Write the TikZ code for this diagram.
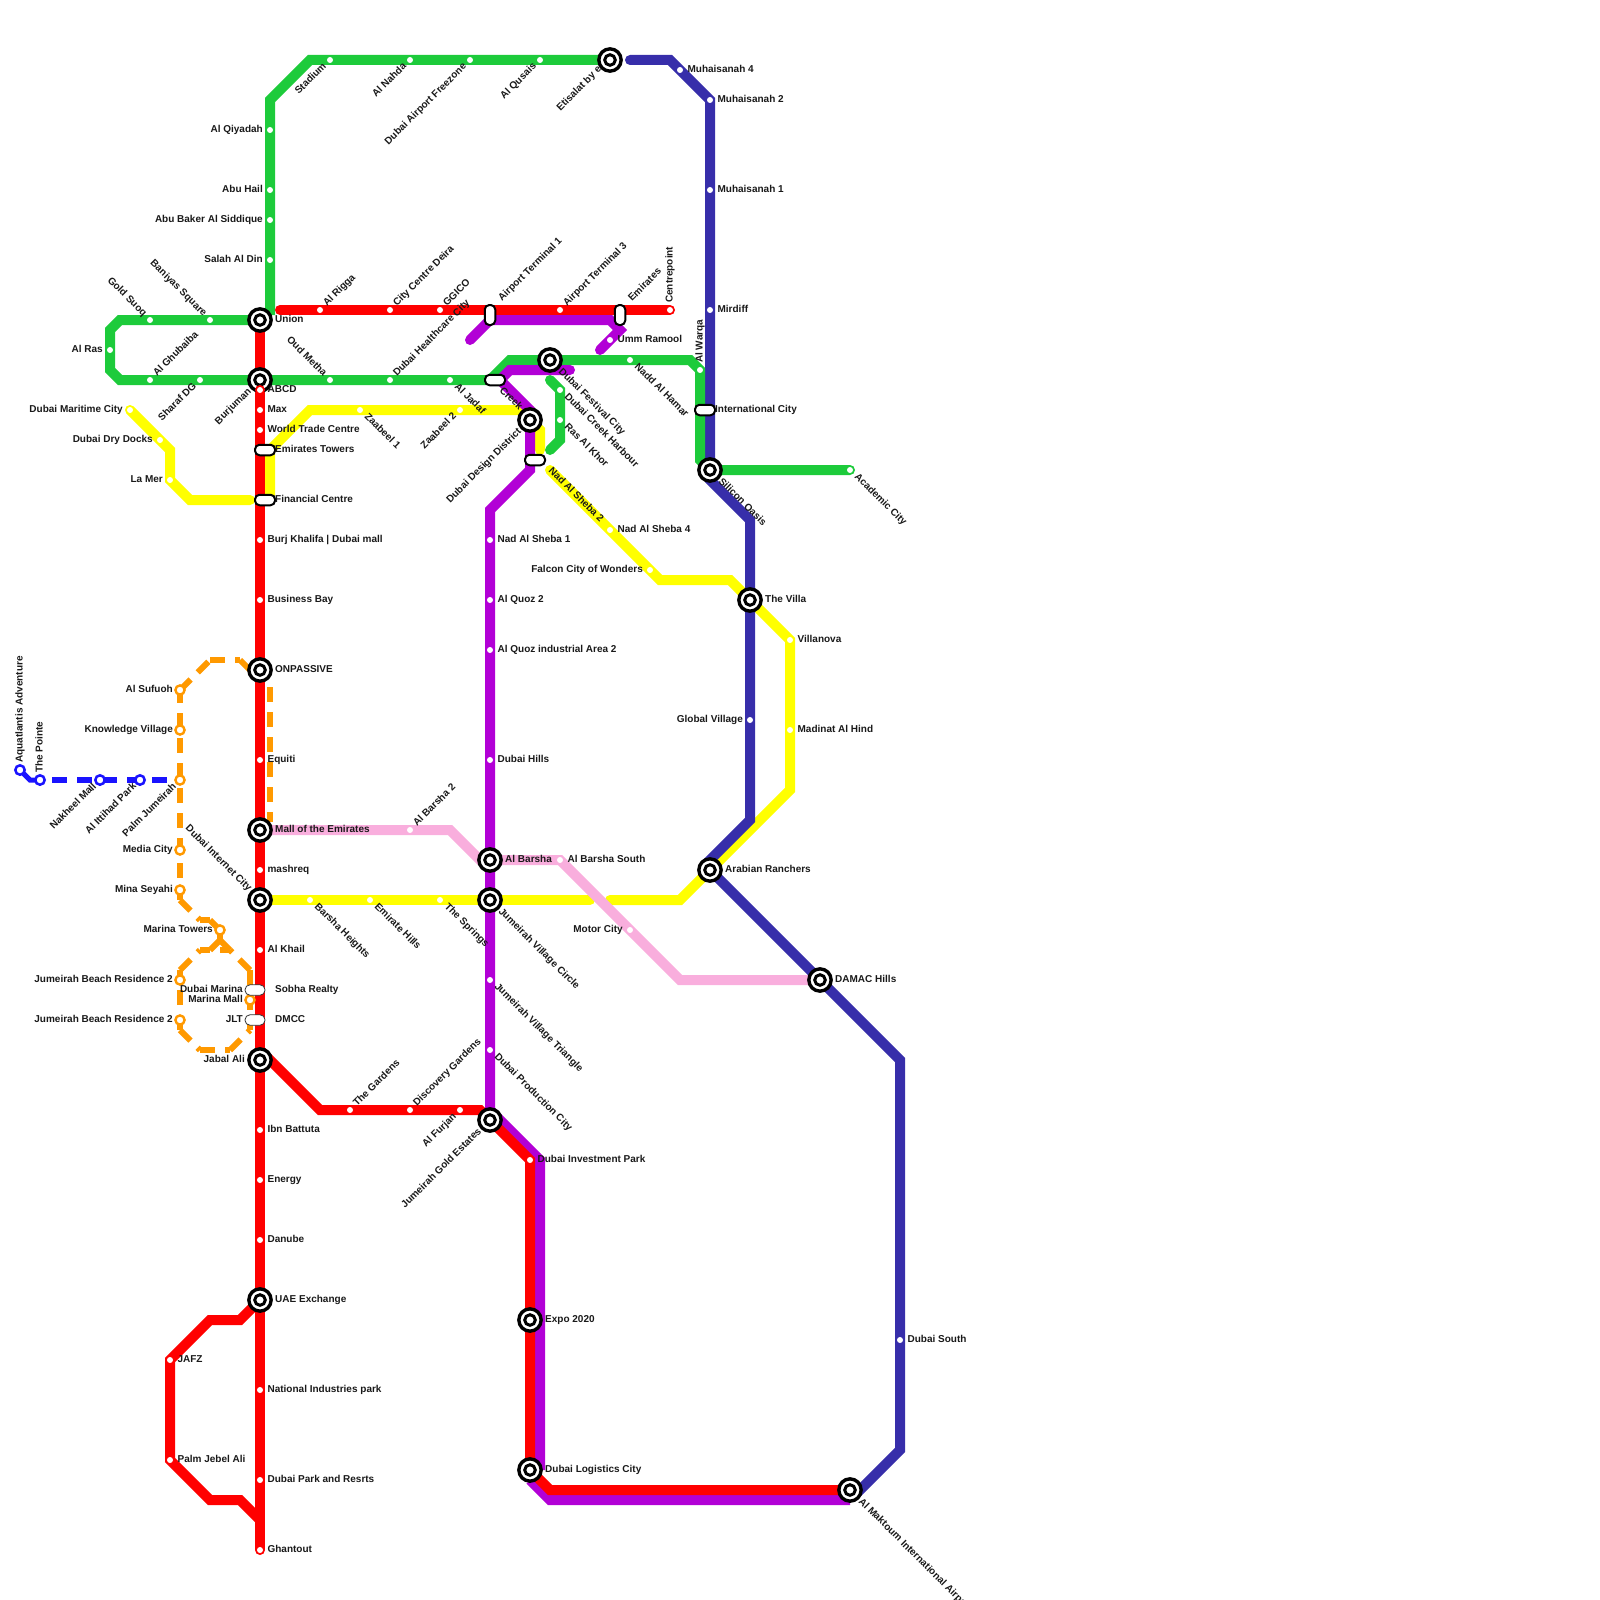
\documentclass[tikz,border=0pt]{standalone}
\usepackage{xcolor}
\usepackage{fontspec}
\setmainfont{Liberation Sans}
\usetikzlibrary{backgrounds}
\definecolor{metrored}{HTML}{FF0000}
\definecolor{metrogreen}{HTML}{1DCB3B}
\definecolor{metronavy}{HTML}{372EAA}
\definecolor{metropurple}{HTML}{B200D6}
\definecolor{metroyellow}{HTML}{FFFF00}
\definecolor{metropink}{HTML}{F9AEDD}
\definecolor{metroorange}{HTML}{FF9900}
\definecolor{metroblue}{HTML}{1A13FF}
\tikzset{
  metroline/.style={line width=10pt, line cap=round, line join=miter},
  dashline/.style={line width=6pt, dash pattern=on 15pt off 10pt},
  stopdot/.style={circle, fill=white, inner sep=0pt, minimum size=6pt},
  stopcap/.style={circle, fill=metrored, inner sep=0pt, minimum size=10pt},
  stoporange/.style={circle, draw=metroorange, fill=white, line width=2.4pt, inner sep=0pt, minimum size=9.2pt},
  stopblue/.style={circle, draw=metroblue, fill=white, line width=2.5pt, inner sep=0pt, minimum size=9.4pt},
  hubring/.style={circle, draw=black, fill=white, line width=3.4pt, inner sep=0pt, minimum size=22.3pt},
  hubcore/.style={circle, draw=black, fill=white, line width=3pt, inner sep=0pt, minimum size=10.6pt},
  pillh/.style={rectangle, rounded corners=4.5pt, draw=black, fill=white, line width=2pt, inner sep=0pt, minimum width=20pt, minimum height=10.5pt},
  pillv/.style={rectangle, rounded corners=4.5pt, draw=black, fill=white, line width=2pt, inner sep=0pt, minimum width=10.5pt, minimum height=20pt},
  pillthin/.style={rectangle, rounded corners=5pt, draw=black!80, fill=white, line width=0.8pt, inner sep=0pt, minimum width=20pt, minimum height=10.5pt},
  lbl/.style={font=\bfseries\fontsize{10}{12}\selectfont, text=black!90, inner sep=0pt, text height=7.2pt, text depth=1.8pt},
  lble/.style={lbl, anchor=west},
  lblw/.style={lbl, anchor=east},
  lblne/.style={lbl, rotate=45, anchor=west},
  lblsw/.style={lbl, rotate=45, anchor=east},
  lblnw/.style={lbl, rotate=-45, anchor=east},
  lblse/.style={lbl, rotate=-45, anchor=west},
  lblup/.style={lbl, rotate=90, anchor=west},
}
\begin{document}
\begin{tikzpicture}[x=1pt, y=-1pt]
    \useasboundingbox (0, 0) rectangle (1600, 1600);
    % stations
    \foreach \nm/\px/\py in {alqiyadah/270/130, abuhail/270/190, abubaker/270/220, salah/270/260, stadium/330/60, alnahda/410/60, freezone/470/60, qusais/540/60, goldsuoq/150/320, baniyas/210/320, alras/110/350, ghubaiba/150/380, sharaf/200/380, oudmetha/330/380, healthcare/390/380, jadaf/450/380, nadd/630/360, warqa/700/370, harbour/560/390, raskhor/560/420, academic/850/470, rigga/320/310, citycentre/390/310, ggico/440/310, terminal3/560/310, centrepoint/670/310, max/260/410, wtc/260/430, burj/260/540, bay/260/600, equiti/260/760, mashreq/260/870, khail/260/950, ibn/260/1130, energy/260/1180, danube/260/1240, national/260/1390, park/260/1480, ghantout/260/1550, jafz/170/1360, jebelali/170/1460, gardens/350/1110, discovery/410/1110, furjan/460/1110, investment/530/1160, muh4/680/70, muh2/710/100, muh1/710/190, mirdiff/710/310, globalvillage/750/720, dubaisouth/900/1340, maritime/130/410, drydocks/160/440, lamer/170/480, zaabeel1/360/410, zaabeel2/460/410, sheba4/610/530, falcon/650/570, villanova/790/640, madinat/790/730, barshaheights/310/900, emiratehills/370/900, springs/440/900, ummramool/610/340, sheba1/490/540, quoz2/490/600, quozia/490/650, dubaihills/490/760, jvt/490/980, production/490/1050, barsha2/410/830, barshasouth/560/860, motor/630/930}
        \node[stopdot] (\nm) at (\px, \py) {};
    \foreach \nm/\px/\py in {union/260/320, burjuman/260/380, etisalat/610/60, festival/550/360, creek/530/420, silicon/710/470, villa/750/600, onpassive/260/670, moe/260/830, internetcity/260/900, albarsha/490/860, jvc/490/900, ranchers/710/870, damac/820/980, jabalali/260/1060, goldestates/490/1120, uae/260/1300, expo/530/1320, logistics/530/1470, maktoum/850/1490} {
        \node[hubring] (\nm) at (\px, \py) {};
        \node[hubcore] (\nm-core) at (\px, \py) {};
    }
    % the red line runs over the lower edge of this hub
    \node[stopcap] (abcdcap) at (260, 390) {};
    \node[stopdot] (abcd) at (260, 390) {};
    \foreach \nm/\px/\py in {alsufuoh/180/690, knowledge/180/730, palmjumeirah/180/780, media/180/850, minaseyahi/180/890, marinatowers/220/930, jbr1/180/980, jbr2/180/1020, marinamall/250/1000}
        \node[stoporange] (\nm) at (\px, \py) {};
    \foreach \nm/\px/\py in {aquatlantis/20/770, pointe/40/780, nakheel/100/780, ittihad/140/780}
        \node[stopblue] (\nm) at (\px, \py) {};
    \foreach \nm/\px/\py in {emiratestowers/265/450, financial/265/500, creekgate/495/380, designgate/535/460, intlcity/705/410}
        \node[pillh] (\nm) at (\px, \py) {};
    \foreach \nm/\px/\py in {terminal1/490/315, emirates/620/315}
        \node[pillv] (\nm) at (\px, \py) {};
    \foreach \nm/\px/\py in {sobha/255/990, dmcc/255/1020}
        \node[pillthin] (\nm) at (\px, \py) {};
    % labels
    \foreach \nm/\txt in {abcd/ABCD, max/Max, wtc/World Trade Centre, burj/Burj Khalifa | Dubai mall, bay/Business Bay, equiti/Equiti, mashreq/mashreq, khail/Al Khail, ibn/Ibn Battuta, energy/Energy, danube/Danube, national/National Industries park, park/Dubai Park and Resrts, ghantout/Ghantout, jafz/JAFZ, jebelali/Palm Jebel Ali, investment/Dubai Investment Park, muh4/Muhaisanah 4, muh2/Muhaisanah 2, muh1/Muhaisanah 1, mirdiff/Mirdiff, dubaisouth/Dubai South, sheba4/Nad Al Sheba 4, villanova/Villanova, madinat/Madinat Al Hind, ummramool/Umm Ramool, sheba1/Nad Al Sheba 1, quoz2/Al Quoz 2, quozia/Al Quoz industrial Area 2, dubaihills/Dubai Hills, barshasouth/Al Barsha South}
        \node[lble] (\nm-t) at ([xshift=7.4pt]\nm.center) {\txt};
    \foreach \nm/\txt in {union/Union, onpassive/ONPASSIVE, moe/Mall of the Emirates, albarsha/Al Barsha, villa/The Villa, ranchers/Arabian Ranchers, damac/DAMAC Hills, uae/UAE Exchange, expo/Expo 2020, logistics/Dubai Logistics City}
        \node[lble] (\nm-t) at ([xshift=15pt]\nm.center) {\txt};
    \foreach \nm/\txt in {emiratestowers/Emirates Towers, financial/Financial Centre, intlcity/International City}
        \node[lble] (\nm-t) at ([xshift=10pt]\nm.center) {\txt};
    \foreach \nm/\txt in {sobha/Sobha Realty, dmcc/DMCC}
        \node[lble] (\nm-t) at ([xshift=20pt]\nm.center) {\txt};
    \foreach \nm/\txt in {alqiyadah/Al Qiyadah, abuhail/Abu Hail, abubaker/Abu Baker Al Siddique, salah/Salah Al Din, alras/Al Ras, maritime/Dubai Maritime City, drydocks/Dubai Dry Docks, lamer/La Mer, motor/Motor City, globalvillage/Global Village, falcon/Falcon City of Wonders, alsufuoh/Al Sufuoh, knowledge/Knowledge Village, media/Media City, minaseyahi/Mina Seyahi, marinatowers/Marina Towers, jbr1/Jumeirah Beach Residence 2, jbr2/Jumeirah Beach Residence 2, marinamall/Marina Mall}
        \node[lblw] (\nm-t) at ([xshift=-7pt]\nm.center) {\txt};
    \node[lblw] (jabalali-t) at ([xshift=-15pt]jabalali.center) {Jabal Ali};
    \node[lblw] (sobha-w) at ([xshift=-12pt]sobha.center) {Dubai Marina};
    \node[lblw] (dmcc-w) at ([xshift=-12pt]dmcc.center) {JLT};
    \foreach \nm/\txt in {rigga/Al Rigga, citycentre/City Centre Deira, ggico/GGICO, terminal3/Airport Terminal 3, ghubaiba/Al Ghubaiba, healthcare/Dubai Healthcare City, barsha2/Al Barsha 2, gardens/The Gardens, discovery/Discovery Gardens}
        \node[lblne] (\nm-t) at ([shift={(5,-5)}]\nm.center) {\txt};
    \foreach \nm/\txt in {terminal1/Airport Terminal 1, emirates/Emirates}
        \node[lblne] (\nm-t) at ([shift={(10,-15)}]\nm.center) {\txt};
    \foreach \nm/\txt in {stadium/Stadium, alnahda/Al Nahda, freezone/Dubai Airport Freezone, qusais/Al Qusais, sharaf/Sharaf DG, zaabeel2/Zaabeel 2, nakheel/Nakheel Mall, ittihad/Al Ittihad Park, palmjumeirah/Palm Jumeirah, furjan/Al Furjan}
        \node[lblsw] (\nm-t) at ([shift={(-5,5)}]\nm.center) {\txt};
    \node[lblsw] (etisalat-t) at ([shift={(-10,8)}]etisalat.center) {Etisalat by e};
    \foreach \nm/\txt in {burjuman/Burjuman, creek/Dubai Design District, goldestates/Jumeirah Gold Estates}
        \node[lblsw] (\nm-t) at ([shift={(-10,10)}]\nm.center) {\txt};
    \foreach \nm/\txt in {goldsuoq/Gold Suoq, baniyas/Baniyas Square, oudmetha/Oud Metha}
        \node[lblnw] (\nm-t) at ([shift={(-5,-5)}]\nm.center) {\txt};
    \node[lblnw] (internetcity-t) at ([shift={(-10,-10)}]internetcity.center) {Dubai Internet City};
    \foreach \nm/\txt in {zaabeel1/Zaabeel 1, jadaf/Al Jadaf, harbour/Dubai Creek Harbour, raskhor/Ras Al Khor, nadd/Nadd Al Hamar, academic/Academic City, barshaheights/Barsha Heights, emiratehills/Emirate Hills, springs/The Springs, jvt/Jumeirah Village Triangle, production/Dubai Production City}
        \node[lblse] (\nm-t) at ([shift={(6,5)}]\nm.center) {\txt};
    \foreach \nm/\txt in {festival/Dubai Festival City, silicon/Silicon Oasis, jvc/Jumeirah Village Circle, maktoum/Al Maktoum International Airport}
        \node[lblse] (\nm-t) at ([shift={(10,10)}]\nm.center) {\txt};
    \node[lblse] (creekgate-t) at ([shift={(6,9)}]creekgate.center) {Creek};
    \node[lblse] (designgate-t) at ([shift={(15,9)}]designgate.center) {Nad Al Sheba 2};
    \foreach \nm/\txt in {pointe/The Pointe, aquatlantis/Aquatlantis Adventure, centrepoint/Centrepoint, warqa/Al Warqa}
        \node[lblup] (\nm-t) at ([shift={(0,-7)}]\nm.center) {\txt};
    % lines, behind the stations
    \begin{scope}[on background layer]
        % Line: yellow
        \draw[metroline, metroyellow] (maritime.center) -- (170, 450) -- (lamer.center) -- (190, 500) -- (250, 500);
        \draw[metroline, metroyellow] (270, 500) -- (270, 450) -- (310, 410) -- (530, 410);
        \draw[metroline, metroyellow] (creek.center) -- (540, 430) -- (540, 450);
        \draw[metroline, metroyellow] (550, 470) -- (660, 580) -- (730, 580) -- (villa.center) -- (villanova.center) -- (790, 790) -- (ranchers.center) -- (680, 900) -- (610, 900);
        \draw[metroline, metroyellow] (internetcity.center) -- (590, 900);
        % Line: pink
        \draw[metroline, metropink] (moe.center) -- (450, 830) -- (480, 860) -- (barshasouth.center) -- (680, 980) -- (damac.center);
        % Line: navy
        \draw[metroline, metronavy] (630, 60) -- (670, 60) -- (muh2.center) -- (710, 480) -- (750, 520) -- (750, 820) -- (705, 865);
        \draw[metroline, metronavy] (ranchers.center) -- (900, 1060) -- (900, 1450) -- (855, 1495);
        % Line: green
        \draw[metroline, metrogreen, line cap=butt] (etisalat.center) -- (310, 60) -- (270, 100) -- (270, 315);
        \draw[metroline, metrogreen] (union.center) -- (120, 320) -- (110, 330) -- (110, 370) -- (120, 380) -- (490, 380) -- (510, 360) -- (690, 360) -- (700, 370) -- (700, 460) -- (silicon.center) -- (academic.center);
        \draw[metroline, metrogreen] (550, 380) -- (560, 390) -- (560, 440) -- (550, 450);
        % Line: purple
        \draw[metroline, metropurple] (470, 340) -- (490, 320) -- (610, 320) -- (620, 330) -- (600, 350);
        \draw[metroline, metropurple] (570, 370) -- (510, 370) -- (500, 380) -- (530, 410) -- (530, 470) -- (490, 510) -- (goldestates.center);
        \draw[metroline, metropurple, line cap=butt] (490, 1110) -- (540, 1160) -- (540, 1470);
        \draw[metroline, metropurple, line cap=butt] (530, 1480) -- (550, 1500) -- (850, 1500);
        % Line: red
        \draw[metroline, metrored] (union.center) -- (ghantout.center);
        \draw[metroline, metrored] (280, 310) -- (centrepoint.center);
        \draw[metroline, metrored] (260, 1050) -- (320, 1110) -- (480, 1110) -- (goldestates.center) -- (investment.center) -- (logistics.center) -- (550, 1490) -- (maktoum.center);
        \draw[metroline, metrored, line cap=butt] (uae.center) -- (240, 1320) -- (210, 1320) -- (jafz.center) -- (jebelali.center) -- (210, 1500) -- (240, 1500) -- (260, 1520);
        % Line: orange, dashes restart at each bend
        \coordinate (oa) at (210, 660);
        \coordinate (ob) at (240, 660);
        \coordinate (oc) at (260, 680);
        \coordinate (od) at (270, 687);
        \coordinate (oe) at (270, 822);
        \coordinate (of) at (180, 688);
        \coordinate (og) at (180, 900);
        \coordinate (oh) at (200, 920);
        \coordinate (oi) at (210, 920);
        \coordinate (oj) at (220, 940);
        \coordinate (ok) at (210, 950);
        \coordinate (ol) at (200, 950);
        \coordinate (om) at (180, 970);
        \coordinate (on) at (180, 1030);
        \coordinate (oo) at (200, 1050);
        \coordinate (op) at (230, 1050);
        \coordinate (oq) at (250, 1030);
        \coordinate (or) at (250, 970);
        \coordinate (os) at (230, 950);
        \coordinate (ot) at (220, 950);
        \foreach \pa/\pb in {alsufuoh/oa, oa/ob, ob/oc, od/oe, of/minaseyahi, minaseyahi/og, og/oh, oh/oi, oi/marinatowers, marinatowers/oj, oj/ok, ol/ok, om/ol, on/om, on/oo, oo/op, op/oq, or/oq, or/os, os/ot, oj/os}
            \draw[dashline, metroorange] (\pa.center) -- (\pb.center);
        % Line: blue
        \coordinate (bendblue) at (30, 780);
        \draw[line width=5pt, metroblue] (aquatlantis.center) -- (bendblue) -- (pointe.center);
        \draw[dashline, metroblue, dash phase=13pt] (pointe.center) -- (palmjumeirah.center);
    \end{scope}
\end{tikzpicture}
\end{document}
